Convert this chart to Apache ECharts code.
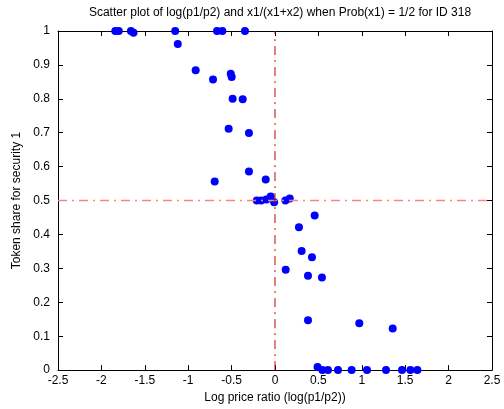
<!DOCTYPE html>
<html>
<head>
<meta charset="utf-8">
<script src="https://cdn.jsdelivr.net/npm/echarts@6/dist/echarts.min.js"></script>
<style>html,body{margin:0;padding:0;background:#fff;}#c{width:504px;height:409px;}</style>
</head>
<body>
<div id="c"></div>
<script>
var titleText = 'Scatter plot of log(p1/p2) and x1/(x1+x2) when Prob(x1) = 1/2 for ID 318';
var xLabel = 'Log price ratio (log(p1/p2))';
var yLabel = 'Token share for security 1';
var xTicks = [-2.5, 2.5, 0.5];
var yTicks = [0, 1, 0.1];
var logRatio = [-1.84, -1.80, -1.66, -1.63, -1.15, -1.12, -0.914, -0.714, -0.668, -0.607, -0.51, -0.499, -0.488, -0.372, -0.346,
  -0.534, -0.30, -0.695, -0.30, -0.107,
  -0.21, -0.16, -0.10, -0.05, -0.01, 0.12, 0.17,
  0.457, 0.276, 0.307, 0.426, 0.123, 0.38, 0.541, 0.38, 0.971, 1.356,
  0.49, 0.545, 0.61, 0.726, 0.883, 1.06, 1.279, 1.463, 1.56, 1.64];
var tokenShare = [1, 1, 1, 0.995, 1, 0.962, 0.884, 0.857, 1, 1, 0.874, 0.864, 0.80, 0.799, 1,
  0.712, 0.699, 0.556, 0.586, 0.562,
  0.50, 0.50, 0.503, 0.512, 0.495, 0.50, 0.506,
  0.456, 0.421, 0.351, 0.333, 0.296, 0.278, 0.273, 0.147, 0.138, 0.123,
  0.009, 0, 0, 0, 0, 0, 0, 0, 0, 0];
var refX = 0;
var refY = 0.5;

var pts = logRatio.map(function (v, i) { return [v, tokenShare[i]]; });
var font = 'Liberation Sans, Arial, sans-serif';
function axisBase(min, max, itv) {
  return {
    type: 'value', min: min, max: max, interval: itv,
    axisLine: { show: true, onZero: false, lineStyle: { color: '#000', width: 1 } },
    axisTick: { show: true, inside: true, length: 5, lineStyle: { color: '#000' } },
    splitLine: { show: false }
  };
}
var xb = axisBase(xTicks[0], xTicks[1], xTicks[2]);
xb.position = 'bottom';
xb.name = xLabel; xb.nameLocation = 'middle'; xb.nameGap = 19;
xb.nameTextStyle = { fontFamily: font, fontSize: 12, color: '#000' };
xb.axisLabel = { fontFamily: font, fontSize: 12, color: '#000', margin: 5, formatter: function (v) { return String(Math.round(v * 10) / 10); } };
var xt = axisBase(xTicks[0], xTicks[1], xTicks[2]);
xt.position = 'top'; xt.axisLabel = { show: false };
var yl = axisBase(yTicks[0], yTicks[1], yTicks[2]);
yl.position = 'left';
yl.name = yLabel; yl.nameLocation = 'middle'; yl.nameGap = 33;
yl.nameTextStyle = { fontFamily: font, fontSize: 12, color: '#000' };
yl.axisLabel = { fontFamily: font, fontSize: 12, color: '#000', margin: 8, formatter: function (v) { return String(Math.round(v * 10) / 10); } };
var yr = axisBase(yTicks[0], yTicks[1], yTicks[2]);
yr.position = 'right'; yr.axisLabel = { show: false };

var chart = echarts.init(document.getElementById('c'), null, { renderer: 'canvas' });
chart.setOption({
  animation: false,
  backgroundColor: '#fff',
  title: {
    text: titleText, left: 275, top: 2, textAlign: 'center',
    textStyle: { fontFamily: font, fontSize: 12, fontWeight: 'normal', color: '#000' }
  },
  grid: { left: 58, right: 12, top: 31, bottom: 37 },
  xAxis: [xb, xt],
  yAxis: [yl, yr],
  series: [
    {
      type: 'line', xAxisIndex: 0, yAxisIndex: 0, symbol: 'none', silent: true,
      data: [[xTicks[0], refY], [xTicks[1], refY]],
      lineStyle: { color: '#ff8080', width: 1.5, type: [9, 5, 2, 5] }
    },
    {
      type: 'line', xAxisIndex: 0, yAxisIndex: 0, symbol: 'none', silent: true,
      data: [[refX, yTicks[0]], [refX, yTicks[1]]],
      lineStyle: { color: '#cc0000', width: 1, type: [9, 5, 2, 5] }
    },
    {
      type: 'scatter', xAxisIndex: 0, yAxisIndex: 0, data: pts,
      symbol: 'circle', symbolSize: 8,
      itemStyle: { color: '#0000ff', opacity: 1 }
    }
  ]
});
</script>
</body>
</html>
